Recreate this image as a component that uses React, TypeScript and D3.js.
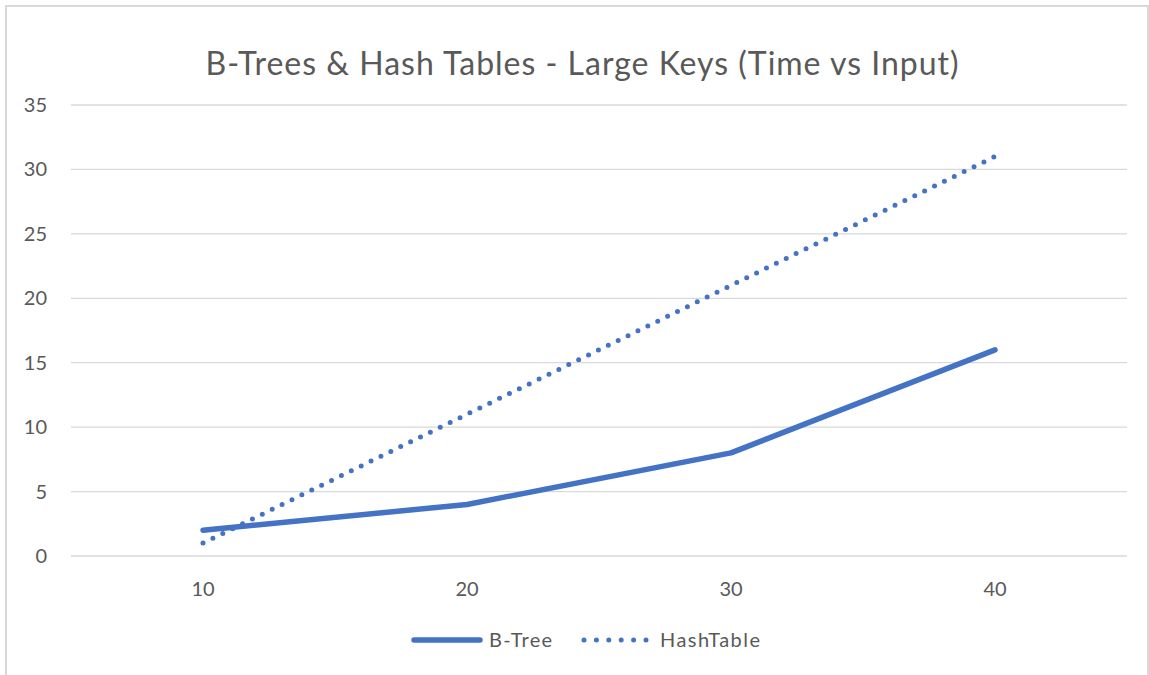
import { useMemo } from 'react'
import * as d3 from 'd3'

const categories = ['10', '20', '30', '40']
const bTree = [2, 4, 8, 16]
const hashTable = [1, 11, 21, 31]
const yTicks = [0, 5, 10, 15, 20, 25, 30, 35]

const BLUE = '#4472C4'
const TEXT = '#595959'
const GRID = '#d9d9d9'
const FONT = "Lato, 'Open Sans', sans-serif"

export default function App() {
  const width = 1149
  const height = 675
  const plot = { left: 71, right: 1127, top: 105, bottom: 556 }

  const x = useMemo(
    () => d3.scalePoint().domain(categories).range([plot.left, plot.right]).padding(0.5),
    []
  )
  const y = useMemo(() => d3.scaleLinear().domain([0, 35]).range([plot.bottom, plot.top]), [])

  const line = d3.line<number>()
    .x((_, i) => x(categories[i]) as number)
    .y(d => y(d))

  const series = [
    { name: 'B-Tree', values: bTree, dash: undefined as string | undefined },
    { name: 'HashTable', values: hashTable, dash: '0 11' }
  ]

  return (
    <svg
      width={width}
      height={height}
      style={{ position: 'absolute', left: 0, top: 0, background: 'white' }}
      fontFamily={FONT}
    >
      {/* chart border */}
      <rect x={6} y={6} width={1142} height={700} fill="white" stroke={GRID} strokeWidth={2} />

      <text x={582} y={75} textAnchor="middle" fill={TEXT} fontSize={32} textLength={753}>
        B-Trees &amp; Hash Tables - Large Keys (Time vs Input)
      </text>

      {/* gridlines + y labels */}
      {yTicks.map(t => (
        <g key={t}>
          <line x1={plot.left} x2={plot.right} y1={y(t)} y2={y(t)} stroke={GRID} strokeWidth={1.3} />
          <text x={47} y={y(t)} dy="0.35em" textAnchor="end" fill={TEXT} fontSize={20}>
            {t}
          </text>
        </g>
      ))}

      {/* x labels */}
      {categories.map(c => (
        <text key={c} x={x(c)} y={596} textAnchor="middle" fill={TEXT} fontSize={20}>
          {c}
        </text>
      ))}

      {/* series */}
      {series.map(s => (
        <path
          key={s.name}
          d={line(s.values) || ''}
          fill="none"
          stroke={BLUE}
          strokeWidth={s.dash ? 5 : 5.5}
          strokeLinecap="round"
          strokeLinejoin="round"
          strokeDasharray={s.dash}
        />
      ))}

      {/* legend */}
      <g>
        <line x1={414} x2={480} y1={640} y2={640} stroke={BLUE} strokeWidth={5.5} strokeLinecap="round" />
        <text x={489} y={640} dy="0.35em" fill={TEXT} fontSize={20} textLength={63}>B-Tree</text>
        <line x1={584} x2={646} y1={640} y2={640} stroke={BLUE} strokeWidth={5} strokeLinecap="round" strokeDasharray="0 12.4" />
        <text x={660} y={640} dy="0.35em" fill={TEXT} fontSize={20} textLength={100}>HashTable</text>
      </g>
    </svg>
  )
}
